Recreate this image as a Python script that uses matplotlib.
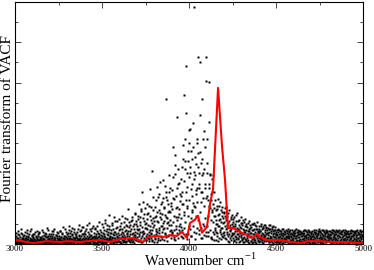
import numpy as np
import matplotlib
matplotlib.use('Agg')
import matplotlib.pyplot as plt
from matplotlib.ticker import MultipleLocator

plt.rcParams['font.family'] = ['Liberation Serif', 'DejaVu Serif']
plt.rcParams['mathtext.fontset'] = 'custom'
plt.rcParams['mathtext.rm'] = 'Liberation Serif'

# raw Fourier transform samples (arbitrary units), uniform grid from 3000 cm-1, step 2.5 cm-1
vacf_start = 3000.0
vacf_step = 2.5
vacf_ft = [
    5, 18, 2, 27, 9, 3, 14, 31, 7, 1, 22, 11, 4, 36, 8, 16, 2, 25, 12, 6,
    10, 3, 29, 15, 1, 8, 20, 5, 34, 12, 2, 17, 7, 26, 4, 11, 38, 6, 19, 9,
    3, 14, 24, 6, 1, 30, 10, 5, 18, 2, 13, 33, 7, 21, 4, 9, 27, 15, 1, 11,
    16, 5, 8, 35, 2, 12, 23, 6, 3, 28, 10, 17, 1, 7, 40, 13, 4, 20, 9, 25,
    6, 19, 2, 11, 31, 5, 14, 1, 24, 8, 37, 3, 15, 10, 22, 4, 29, 7, 13, 2,
    21, 9, 4, 33, 12, 1, 17, 26, 6, 10, 3, 42, 14, 7, 19, 2, 11, 30, 5, 16,
    8, 27, 3, 14, 45, 10, 2, 19, 6, 33, 12, 4, 22, 9, 1, 38, 15, 7, 25, 11,
    4, 18, 30, 6, 13, 2, 48, 10, 21, 5, 16, 35, 8, 1, 26, 12, 3, 41, 9, 19,
    14, 6, 24, 2, 37, 11, 7, 29, 16, 3, 52, 9, 20, 5, 13, 31, 1, 18, 8, 44,
    10, 3, 27, 15, 6, 39, 12, 21, 2, 33, 8, 17, 55, 4, 24, 11, 7, 30, 14, 5,
    19, 8, 42, 3, 26, 13, 60, 6, 17, 31, 2, 48, 11, 22, 9, 37, 72, 15, 28, 12,
    5, 34, 18, 9, 51, 2, 24, 14, 66, 7, 29, 11, 40, 4, 20, 57, 13, 8, 35, 16,
    23, 6, 45, 14, 3, 38, 19, 70, 9, 27, 12, 55, 4, 31, 17, 48, 8, 24, 62, 11,
    87, 20, 7, 41, 15, 33, 58, 10, 26, 67, 5, 44, 18, 36, 12, 74, 77, 22, 9, 50,
    28, 12, 63, 35, 8, 99, 19, 67, 46, 14, 81, 30, 129, 5, 104, 24, 57, 16, 40, 89,
    21, 52, 9, 38, 74, 17, 77, 30, 95, 12, 136, 45, 26, 60, 7, 181, 34, 117, 65, 19,
    48, 15, 92, 33, 70, 24, 141, 56, 10, 117, 39, 85, 28, 154, 77, 18, 62, 105, 44, 30,
    159, 114, 89, 40, 72, 25, 130, 360, 117, 52, 65, 98, 20, 170, 47, 83, 139, 79, 35, 102,
    22, 135, 28, 241, 114, 34, 12, 195, 174, 38, 120, 66, 315, 92, 67, 150, 45, 151, 88, 107,
    30, 160, 42, 98, 129, 18, 246, 211, 370, 72, 185, 206, 110, 442, 325, 141, 89, 230, 25, 165,
    283, 251, 285, 191, 136, 20, 210, 79, 150, 102, 240, 179, 588, 92, 170, 125, 28, 198, 260, 140,
    226, 464, 176, 35, 150, 452, 228, 130, 200, 15, 360, 172, 260, 115, 185, 45, 240, 140, 20, 464,
    405, 260, 176, 110, 30, 140, 402, 303, 174, 90, 125, 18, 160, 85, 12, 171, 100, 25, 130, 109,
    70, 30, 85, 50, 20, 95, 45, 112, 60, 15, 75, 104, 35, 55, 25, 80, 92, 40, 65, 18,
    55, 22, 70, 89, 38, 12, 64, 30, 48, 8, 76, 25, 42, 58, 15, 35, 68, 20, 50, 28,
    44, 14, 62, 27, 9, 50, 33, 18, 72, 6, 40, 24, 56, 12, 35, 20, 47, 8, 30, 66,
    22, 52, 10, 38, 16, 60, 5, 29, 44, 13, 34, 7, 50, 20, 42, 11, 26, 58, 3, 31,
    17, 40, 8, 28, 49, 12, 35, 4, 24, 53, 15, 30, 9, 45, 19, 2, 38, 26, 11, 33,
    6, 27, 44, 14, 32, 20, 50, 9, 36, 17, 3, 42, 23, 12, 30, 47, 7, 25, 39, 15,
    34, 10, 22, 46, 4, 29, 16, 38, 8, 27, 43, 13, 31, 2, 20, 35, 11, 41, 18, 24,
    14, 30, 5, 22, 36, 9, 26, 2, 18, 33, 11, 24, 7, 38, 16, 28, 3, 20, 31, 10,
    25, 4, 17, 34, 12, 28, 8, 21, 37, 1, 15, 30, 10, 26, 5, 19, 35, 13, 23, 6,
    9, 32, 19, 3, 27, 14, 36, 7, 22, 11, 29, 2, 18, 33, 8, 25, 12, 30, 4, 20,
    28, 12, 6, 24, 35, 15, 3, 20, 31, 9, 17, 26, 5, 34, 13, 22, 1, 29, 16, 10,
    18, 27, 8, 33, 4, 21, 13, 30, 10, 25, 2, 19, 35, 7, 23, 14, 28, 5, 32, 11,
    6, 22, 30, 12, 17, 3, 26, 34, 9, 20, 14, 31, 1, 24, 11, 29, 7, 18, 33, 15,
    25, 10, 19, 4, 32, 14, 23, 8, 28, 2, 17, 35, 12, 21, 6, 30, 16, 3, 26, 13,
    9, 29, 15, 33, 5, 20, 11, 27, 2, 24, 31, 8, 18, 13, 34, 4, 22, 10, 28, 16,
    20, 6, 26, 12, 30, 3, 17, 24, 9, 33, 14, 1, 21, 28, 7, 19, 11, 32, 5, 23,
    13, 27, 4, 18, 31, 10, 22, 7, 29, 15, 2, 25, 34, 8, 19, 12, 30, 6, 21, 16,
]

# interleaved samples, half a step after each of the above
vacf_ft_mid = [
    12, 4, 20, 8, 1, 15, 6, 24, 3, 10, 17, 2, 9, 28, 5, 13, 7, 19, 1, 14,
    6, 22, 11, 3, 16, 9, 1, 27, 13, 5, 20, 8, 2, 15, 31, 7, 12, 4, 23, 10,
    18, 7, 2, 13, 26, 4, 11, 20, 8, 1, 16, 6, 24, 10, 3, 29, 12, 5, 17, 8,
    3, 21, 10, 6, 15, 30, 2, 12, 19, 7, 4, 25, 11, 17, 5, 9, 34, 3, 14, 6,
    11, 2, 26, 16, 7, 20, 9, 33, 4, 13, 18, 6, 1, 23, 8, 15, 3, 19, 27, 9,
    4, 14, 32, 7, 2, 18, 11, 5, 28, 15, 8, 21, 3, 12, 36, 6, 17, 9, 1, 24,
    13, 5, 21, 35, 9, 16, 28, 3, 12, 7, 24, 40, 6, 17, 11, 2, 30, 14, 8, 19,
    25, 10, 4, 16, 37, 7, 13, 22, 3, 31, 11, 6, 19, 43, 9, 15, 24, 5, 12, 28,
    7, 33, 16, 11, 4, 21, 47, 13, 6, 26, 18, 2, 36, 12, 9, 23, 15, 40, 5, 17,
    20, 12, 6, 38, 17, 3, 25, 9, 44, 14, 5, 28, 10, 19, 35, 7, 16, 2, 22, 50,
    10, 28, 15, 5, 34, 20, 9, 52, 13, 4, 24, 38, 16, 7, 30, 12, 44, 21, 3, 18,
    27, 11, 46, 16, 6, 36, 22, 3, 30, 15, 58, 9, 25, 18, 6, 42, 27, 14, 62, 8,
    14, 36, 5, 26, 52, 10, 30, 17, 6, 41, 22, 8, 65, 15, 35, 4, 28, 19, 44, 12,
    32, 9, 54, 24, 4, 47, 16, 38, 13, 60, 28, 8, 22, 50, 3, 30, 18, 56, 11, 38,
    17, 45, 7, 70, 25, 38, 11, 54, 30, 88, 6, 42, 20, 65, 33, 10, 75, 27, 50, 13,
    40, 9, 62, 26, 100, 14, 47, 22, 8, 70, 35, 15, 92, 28, 52, 11, 84, 41, 5, 58,
    23, 66, 12, 108, 38, 6, 80, 30, 55, 16, 125, 34, 9, 68, 44, 98, 20, 75, 12, 52,
    36, 10, 92, 58, 28, 145, 18, 66, 40, 108, 8, 80, 54, 22, 128, 33, 60, 14, 95, 47,
    88, 30, 165, 55, 18, 112, 70, 10, 220, 45, 90, 28, 140, 60, 15, 185, 75, 35, 125, 50,
    20, 120, 65, 190, 35, 100, 15, 155, 80, 40, 260, 55, 130, 25, 175, 95, 12, 205, 70, 45,
    110, 38, 175, 65, 230, 20, 120, 85, 300, 45, 160, 30, 95, 215, 12, 135, 70, 250, 40, 105,
    60, 190, 25, 140, 80, 320, 40, 105, 15, 210, 130, 50, 175, 22, 95, 280, 65, 150, 30, 115,
    200, 45, 120, 70, 20, 150, 95, 35, 170, 60, 110, 15, 80, 130, 30, 55, 90, 10, 70, 40,
    35, 60, 10, 88, 28, 50, 72, 8, 45, 95, 30, 62, 12, 85, 40, 20, 70, 52, 28, 80,
    30, 78, 45, 15, 60, 92, 25, 40, 70, 20, 52, 5, 84, 32, 48, 10, 62, 38, 22, 72,
    25, 55, 8, 40, 68, 20, 45, 12, 58, 32, 78, 15, 38, 25, 60, 5, 42, 28, 52, 18,
    40, 12, 48, 26, 6, 35, 55, 18, 30, 62, 9, 44, 24, 15, 52, 32, 4, 38, 20, 46,
    28, 8, 42, 20, 34, 3, 50, 16, 38, 10, 26, 46, 6, 22, 36, 14, 55, 8, 30, 19,
    38, 16, 8, 33, 22, 45, 12, 28, 4, 40, 26, 18, 48, 7, 35, 20, 13, 42, 28, 9,
    15, 40, 28, 6, 36, 20, 48, 12, 32, 18, 4, 38, 24, 44, 10, 28, 17, 6, 34, 22,
    26, 8, 34, 17, 4, 29, 13, 35, 21, 6, 31, 16, 27, 3, 22, 11, 37, 15, 8, 25,
    12, 30, 20, 7, 33, 18, 2, 26, 14, 32, 21, 5, 35, 17, 28, 9, 24, 3, 30, 15,
    22, 5, 28, 15, 35, 8, 20, 30, 3, 25, 17, 34, 10, 24, 2, 31, 19, 7, 27, 13,
    5, 24, 33, 10, 19, 28, 7, 35, 14, 22, 4, 30, 18, 11, 26, 6, 33, 20, 2, 25,
    30, 13, 21, 3, 26, 11, 34, 18, 5, 29, 16, 9, 27, 20, 1, 32, 8, 24, 15, 36,
    17, 33, 4, 27, 10, 35, 15, 2, 22, 30, 7, 19, 28, 12, 34, 4, 21, 29, 9, 26,
    7, 19, 31, 14, 24, 2, 29, 16, 34, 11, 27, 6, 23, 32, 15, 9, 26, 35, 4, 20,
    32, 4, 22, 8, 28, 35, 3, 17, 30, 12, 6, 25, 33, 2, 20, 29, 12, 35, 5, 24,
    11, 33, 17, 27, 1, 24, 31, 5, 19, 12, 27, 35, 8, 16, 31, 4, 26, 20, 14, 30,
    28, 6, 31, 12, 22, 35, 3, 16, 27, 5, 24, 9, 18, 31, 3, 26, 14, 22, 33, 8,
]

# smoothed spectrum (red line)
smooth_x = [3000, 3069, 3103, 3184, 3259, 3299, 3374, 3414, 3489, 3546, 3603, 3678,
            3736, 3764, 3816, 3851, 3891, 3931, 3960, 3988, 4006, 4034, 4052, 4075,
            4103, 4121, 4138, 4167, 4190, 4207, 4224, 4253, 4293, 4333, 4368, 4391,
            4408, 4448, 4506, 4563, 4638, 4678, 4753, 4828, 4908, 4983, 5000]
smooth_y = [10, 5, 2, 7, 5, 7, 5, 7, 10, 5, 12, 15,
            5, 17, 20, 17, 22, 20, 30, 15, 52, 60, 70, 28,
            42, 100, 135, 387, 241, 159, 40, 40, 30, 22, 15, 25,
            17, 10, 10, 7, 2, 7, 7, 5, 5, 2, 5]

xticks = [3000, 3500, 4000, 4500, 5000]

fig = plt.figure(figsize=(3.74, 2.70), dpi=100)
ax = fig.add_axes([15/374, 1-244/270, 348/374, 242/270])

x1 = vacf_start + vacf_step*np.arange(len(vacf_ft))
x2 = vacf_start + vacf_step/2 + vacf_step*np.arange(len(vacf_ft_mid))
for xx, yy in ((x1, vacf_ft), (x2, vacf_ft_mid)):
    ax.plot(xx, yy, ls='none', marker='s', ms=1.5, mfc='black', mec='none')
ax.plot(smooth_x, smooth_y, color='#ff0000', lw=1.5)

ax.set_xlim(3000, 5000)
ax.set_ylim(0, 600)
ax.xaxis.set_major_locator(MultipleLocator(500))
ax.xaxis.set_minor_locator(MultipleLocator(250))
ax.yaxis.set_major_locator(MultipleLocator(100))
ax.yaxis.set_minor_locator(MultipleLocator(50))
ax.set_xticks(xticks, [str(t) for t in xticks])
ax.tick_params(which='both', direction='in', top=True, right=True, labelleft=False,
               color='#444444')
ax.tick_params(which='major', length=4.5, width=0.7)
ax.tick_params(which='minor', length=2.5, width=0.7)
ax.tick_params(axis='x', labelsize=6.5, pad=0.8)
for s in ax.spines.values():
    s.set_linewidth(0.8)

fig.text(200/374, 1-266.5/270, 'Wavenumber cm$^{-1}$', ha='center', va='baseline',
         fontsize=10.5)
fig.text(8/374, 1-118/270, 'Fourier transform of VACF', rotation=90,
         ha='center', va='center', fontsize=11)

fig.savefig('out.png', dpi=100)
